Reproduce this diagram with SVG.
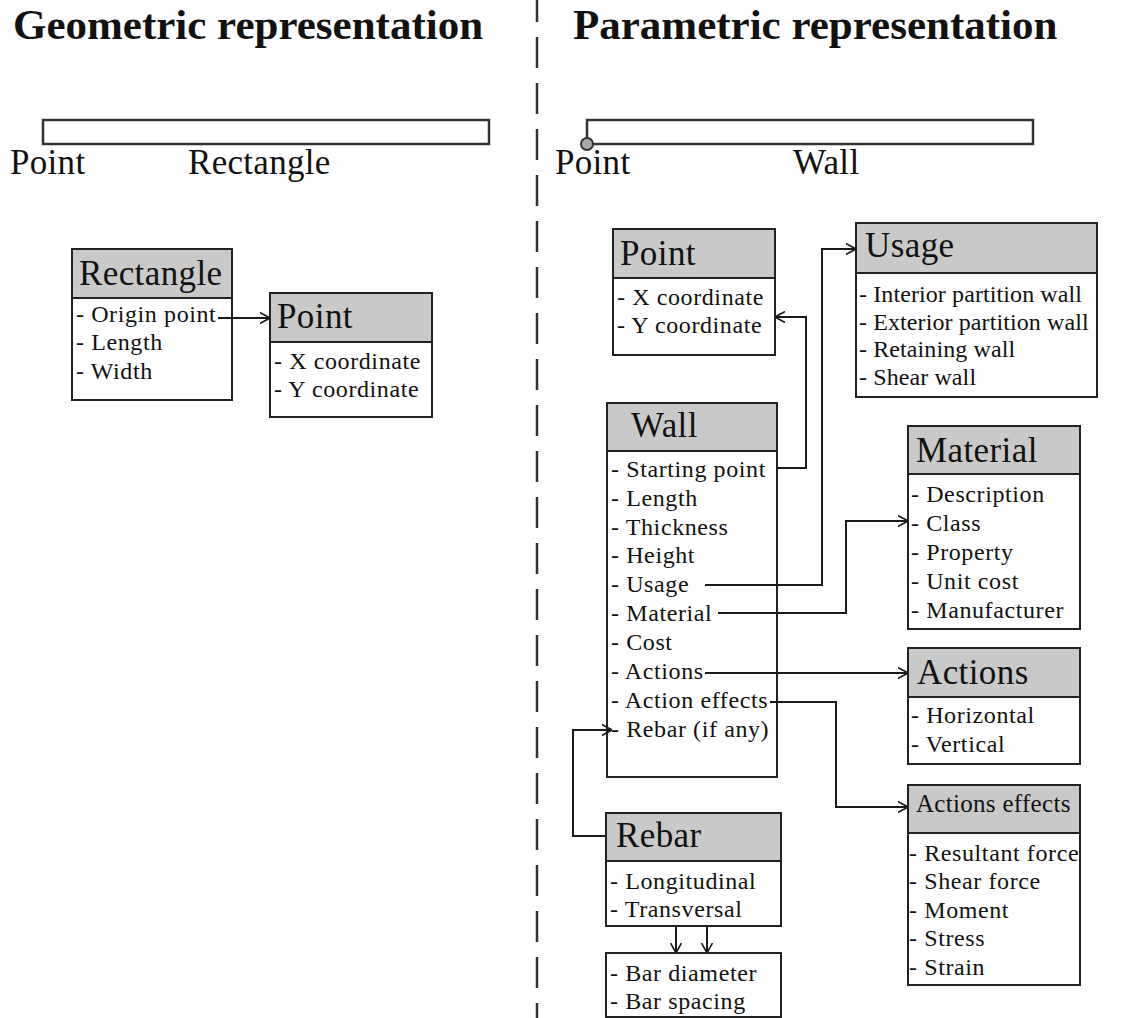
<svg xmlns="http://www.w3.org/2000/svg" width="1123" height="1018" viewBox="0 0 1123 1018">
<style>
text{font-family:"Liberation Serif","Times New Roman",serif;fill:#111}
.title{font-size:43px;font-weight:bold}
.lbl{font-size:35px;letter-spacing:0.3px}
.hd{font-size:35px;letter-spacing:0.4px}
.hds{font-size:25px;letter-spacing:0.3px}
.it{font-size:24px;letter-spacing:0.6px}
.us{letter-spacing:0.1px}
.box{fill:#fff;stroke:#222;stroke-width:2}
.head{fill:#c9c9c9;stroke:#222;stroke-width:2}
.bar{fill:#fff;stroke:#333;stroke-width:2.5}
.con{fill:none;stroke:#1a1a1a;stroke-width:2;marker-end:url(#arr)}
</style>
<defs>
<marker id="arr" viewBox="0 0 10 12" refX="10" refY="6" markerWidth="10" markerHeight="12" markerUnits="userSpaceOnUse" orient="auto">
<path d="M0,0.5 L10,6 L0,11.5" fill="none" stroke="#1a1a1a" stroke-width="1.6"/>
</marker>
</defs>
<rect width="1123" height="1018" fill="#fff"/>
<line x1="537" y1="-9" x2="537" y2="1018" stroke="#333" stroke-width="2.5" stroke-dasharray="31 15"/>

<text class="title" x="13" y="39">Geometric representation</text>
<text class="title" x="573" y="39">Parametric representation</text>

<g id="geo-bar">
<rect class="bar" x="43" y="120" width="446" height="24"/>
<text class="lbl" x="10" y="174">Point</text>
<text class="lbl" x="188" y="174">Rectangle</text>
</g>

<g id="param-bar">
<rect class="bar" x="587" y="120" width="446" height="24"/>
<circle cx="587" cy="144" r="6" fill="#aaa" stroke="#333" stroke-width="2"/>
<text class="lbl" x="555" y="174">Point</text>
<text class="lbl" x="793" y="174">Wall</text>
</g>

<g id="geo-rectangle">
<rect class="box" x="72" y="249" width="160" height="151"/>
<rect class="head" x="72" y="249" width="160" height="49"/>
<text class="hd" x="79" y="285">Rectangle</text>
<text class="it" x="76" y="322">- Origin point</text>
<text class="it" x="76" y="350">- Length</text>
<text class="it" x="76" y="379">- Width</text>
</g>

<g id="geo-point">
<rect class="box" x="270" y="293" width="162" height="124"/>
<rect class="head" x="270" y="293" width="162" height="49"/>
<text class="hd" x="277" y="328">Point</text>
<text class="it" x="274" y="369">- X coordinate</text>
<text class="it" x="274" y="397">- Y coordinate</text>
</g>

<g id="point">
<rect class="box" x="613" y="229" width="162" height="126"/>
<rect class="head" x="613" y="229" width="162" height="49"/>
<text class="hd" x="620" y="265">Point</text>
<text class="it" x="617" y="305">- X coordinate</text>
<text class="it" x="617" y="333">- Y coordinate</text>
</g>

<g id="usage">
<rect class="box" x="856" y="223" width="241" height="174"/>
<rect class="head" x="856" y="223" width="241" height="50"/>
<text class="hd" x="865" y="257">Usage</text>
<text class="it us" x="859" y="302">- Interior partition wall</text>
<text class="it us" x="859" y="330">- Exterior partition wall</text>
<text class="it us" x="859" y="357">- Retaining wall</text>
<text class="it us" x="859" y="385">- Shear wall</text>
</g>

<g id="wall">
<rect class="box" x="607" y="403" width="170" height="374"/>
<rect class="head" x="607" y="403" width="170" height="48"/>
<text class="hd" x="631" y="437">Wall</text>
<text class="it" x="611" y="477">- Starting point</text>
<text class="it" x="611" y="506">- Length</text>
<text class="it" x="611" y="535">- Thickness</text>
<text class="it" x="611" y="563">- Height</text>
<text class="it" x="611" y="592">- Usage</text>
<text class="it" x="611" y="621">- Material</text>
<text class="it" x="611" y="650">- Cost</text>
<text class="it" x="611" y="679">- Actions</text>
<text class="it" x="611" y="708">- Action effects</text>
<text class="it" x="611" y="737">- Rebar (if any)</text>
</g>

<g id="material">
<rect class="box" x="908" y="426" width="172" height="203"/>
<rect class="head" x="908" y="426" width="172" height="48"/>
<text class="hd" x="916" y="462">Material</text>
<text class="it" x="911" y="502">- Description</text>
<text class="it" x="911" y="531">- Class</text>
<text class="it" x="911" y="560">- Property</text>
<text class="it" x="911" y="589">- Unit cost</text>
<text class="it" x="911" y="618">- Manufacturer</text>
</g>

<g id="actions">
<rect class="box" x="908" y="648" width="172" height="116"/>
<rect class="head" x="908" y="648" width="172" height="49"/>
<text class="hd" x="917" y="684">Actions</text>
<text class="it" x="911" y="723">- Horizontal</text>
<text class="it" x="911" y="752">- Vertical</text>
</g>

<g id="actions-effects">
<rect class="box" x="908" y="785" width="172" height="200"/>
<rect class="head" x="908" y="785" width="172" height="48"/>
<text class="hds" x="916" y="812">Actions effects</text>
<text class="it" x="909" y="861">- Resultant force</text>
<text class="it" x="909" y="889">- Shear force</text>
<text class="it" x="909" y="918">- Moment</text>
<text class="it" x="909" y="946">- Stress</text>
<text class="it" x="909" y="975">- Strain</text>
</g>

<g id="rebar">
<rect class="box" x="606" y="813" width="175" height="113"/>
<rect class="head" x="606" y="813" width="175" height="48"/>
<text class="hd" x="616" y="847">Rebar</text>
<text class="it" x="610" y="889">- Longitudinal</text>
<text class="it" x="610" y="917">- Transversal</text>
</g>

<g id="bar">
<rect class="box" x="606" y="953" width="175" height="64"/>
<text class="it" x="610" y="981">- Bar diameter</text>
<text class="it" x="610" y="1009">- Bar spacing</text>
</g>

<g id="connectors">
<path class="con" d="M218,318 H270"/>
<path class="con" d="M777,468 H806 V317 H775"/>
<path class="con" d="M705,585 H822 V249 H856"/>
<path class="con" d="M718,613 H846 V521 H908"/>
<path class="con" d="M705,673 H908"/>
<path class="con" d="M770,702 H836 V807 H908"/>
<path class="con" d="M606,836 H573 V730 H612"/>
<path class="con" d="M676,926 V953"/>
<path class="con" d="M707,926 V953"/>
</g>
</svg>
